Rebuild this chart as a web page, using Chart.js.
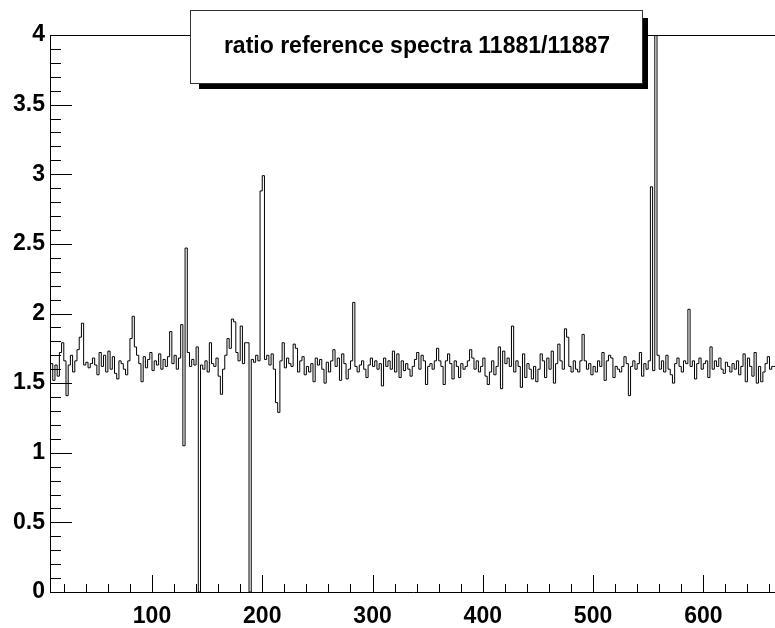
<!DOCTYPE html>
<html><head><meta charset="utf-8">
<script src="https://cdn.jsdelivr.net/npm/chart.js@4"></script>
<style>html,body{margin:0;padding:0;background:#fff;overflow:hidden;}</style>
</head><body>
<canvas id="c" width="775" height="628"></canvas>
<script>
const titleText = 'ratio reference spectra 11881/11887';
const binLow = 8;
const binWidth = 2;
const ratio = [
1.60,1.64,1.52,1.63,1.55,1.72,1.79,1.66,1.41,1.63,
1.70,1.58,1.66,1.74,1.83,1.93,1.63,1.65,1.61,1.64,
1.68,1.63,1.56,1.72,1.62,1.70,1.58,1.73,1.60,1.69,
1.57,1.53,1.66,1.64,1.60,1.56,1.66,1.82,1.98,1.76,
1.70,1.64,1.51,1.69,1.61,1.67,1.72,1.59,1.66,1.63,
1.71,1.60,1.67,1.62,1.69,1.87,1.64,1.70,1.60,1.68,
1.92,1.05,2.47,1.72,1.62,1.67,1.63,1.76,0.00,1.63,
1.60,1.66,1.58,1.79,1.64,1.62,1.68,1.55,1.42,1.60,
1.70,1.82,1.75,1.96,1.94,1.72,1.66,1.91,1.64,1.79,
1.79,0.00,1.67,1.65,1.70,1.66,2.88,2.99,1.67,1.70,
1.63,1.71,1.60,1.36,1.29,1.66,1.79,1.61,1.68,1.64,
1.62,1.78,1.75,1.58,1.66,1.69,1.56,1.62,1.58,1.64,
1.51,1.68,1.63,1.67,1.60,1.50,1.65,1.58,1.66,1.74,
1.62,1.68,1.52,1.71,1.64,1.53,1.60,1.66,2.08,1.62,
1.58,1.63,1.66,1.60,1.54,1.63,1.68,1.62,1.66,1.60,
1.64,1.48,1.68,1.62,1.66,1.60,1.73,1.58,1.71,1.54,
1.66,1.59,1.64,1.60,1.55,1.62,1.67,1.72,1.60,1.70,
1.66,1.49,1.62,1.64,1.60,1.66,1.75,1.66,1.62,1.49,
1.66,1.71,1.64,1.53,1.66,1.62,1.54,1.64,1.60,1.62,
1.66,1.74,1.68,1.60,1.66,1.58,1.62,1.68,1.55,1.49,
1.58,1.66,1.56,1.62,1.76,1.46,1.73,1.64,1.68,1.62,
1.91,1.58,1.66,1.62,1.47,1.71,1.54,1.64,1.60,1.53,
1.62,1.51,1.60,1.71,1.66,1.54,1.68,1.60,1.73,1.50,
1.64,1.78,1.66,1.60,1.89,1.83,1.62,1.58,1.66,1.60,
1.58,1.66,1.85,1.66,1.60,1.64,1.56,1.62,1.58,1.66,
1.62,1.72,1.52,1.66,1.70,1.68,1.54,1.62,1.60,1.58,
1.62,1.69,1.64,1.41,1.62,1.66,1.60,1.64,1.72,1.55,
1.64,1.60,1.66,2.91,1.59,5.50,1.70,1.60,1.66,1.58,
1.70,1.60,1.56,1.50,1.64,1.68,1.62,1.58,1.66,1.64,
2.03,1.62,1.66,1.53,1.64,1.68,1.60,1.64,1.66,1.54,
1.76,1.60,1.66,1.62,1.68,1.60,1.57,1.65,1.62,1.58,
1.64,1.60,1.66,1.56,1.62,1.71,1.51,1.68,1.62,1.55,
1.72,1.50,1.62,1.51,1.58,1.64,1.69,1.60,1.62
];
const xMajorTicks = [100,200,300,400,500,600];
const yMajorTicks = [0,0.5,1,1.5,2,2.5,3,3.5,4];

const FONT = '"Liberation Sans", Arial, Helvetica, sans-serif';

// histogram outline points at bin edges
const points = ratio.map((v,i)=>({x: binLow + i*binWidth, y: v}));
points.push({x: binLow + ratio.length*binWidth, y: ratio[ratio.length-1]});

const rootPlugin = {
  id: 'rootFrame',
  afterDatasetsDraw(chart){
    const ctx = chart.ctx, a = chart.chartArea;
    const xs = chart.scales.x, ys = chart.scales.y;
    ctx.save();
    ctx.strokeStyle = '#000';
    ctx.lineWidth = 1;
    ctx.beginPath();
    ctx.moveTo(a.left+0.5, a.bottom+0.5);
    ctx.lineTo(a.left+0.5, a.top+0.5);
    ctx.lineTo(a.right+1, a.top+0.5);
    ctx.moveTo(a.left+0.5, a.bottom+0.5);
    ctx.lineTo(a.right+1, a.bottom+0.5);
    ctx.stroke();
    ctx.beginPath();
    for (let k=0;k<=40;k++){
      const v = k/10;
      const py = Math.round(ys.getPixelForValue(v))+0.5;
      const len = (k%5===0) ? 22 : 11;
      ctx.moveTo(a.left, py); ctx.lineTo(a.left+len, py);
    }
    for (let v=20; v<=xs.max; v+=20){
      const px = Math.round(xs.getPixelForValue(v))+0.5;
      const len = (v%100===0) ? 17 : 8;
      ctx.moveTo(px, a.bottom); ctx.lineTo(px, a.bottom-len);
    }
    ctx.stroke();
    ctx.restore();
  },
  afterDraw(chart){
    const ctx = chart.ctx;
    ctx.save();
    ctx.fillStyle = '#000';
    ctx.fillRect(199, 18, 449, 71);
    ctx.fillStyle = '#fff';
    ctx.fillRect(191, 10, 452, 73);
    ctx.strokeStyle = '#333';
    ctx.lineWidth = 1;
    ctx.strokeRect(190.5, 10.5, 452, 73);
    ctx.fillStyle = '#000';
    ctx.font = 'bold 23px ' + FONT;
    ctx.textAlign = 'center';
    ctx.textBaseline = 'middle';
    ctx.fillText(titleText, 417, 47);
    ctx.restore();
  }
};

new Chart(document.getElementById('c'), {
  type: 'line',
  data: {
    datasets: [{
      data: points,
      stepped: 'after',
      borderColor: '#000',
      borderWidth: 1,
      pointRadius: 0,
      fill: false,
      tension: 0
    }]
  },
  options: {
    responsive: false,
    animation: false,
    devicePixelRatio: 1,
    layout: { padding: { top: 35, left: 0, right: 0, bottom: 0 } },
    plugins: { legend: { display: false }, tooltip: { enabled: false }, title: { display: false } },
    scales: {
      x: {
        type: 'linear', position: 'bottom', min: 7.5, max: 665,
        afterFit(s){ s.height = 36; },
        afterBuildTicks(s){ s.ticks = xMajorTicks.map(v=>({value:v})); },
        grid: { display: false, drawTicks: false },
        border: { display: false },
        ticks: { color: '#000', font: { family: FONT, size: 23, weight: 'bold' }, padding: 11, maxRotation: 0, autoSkip: false, includeBounds: false,
                 callback: v => String(v) }
      },
      y: {
        type: 'linear', position: 'left', min: 0, max: 4,
        afterFit(s){ s.width = 50; },
        afterBuildTicks(s){ s.ticks = yMajorTicks.map(v=>({value:v})); },
        grid: { display: false, drawTicks: false },
        border: { display: false },
        ticks: { color: '#000', font: { family: FONT, size: 23, weight: 'bold' }, padding: 5, autoSkip: false,
                 callback: v => String(v) }
      }
    }
  },
  plugins: [rootPlugin]
});
</script>
</body></html>
